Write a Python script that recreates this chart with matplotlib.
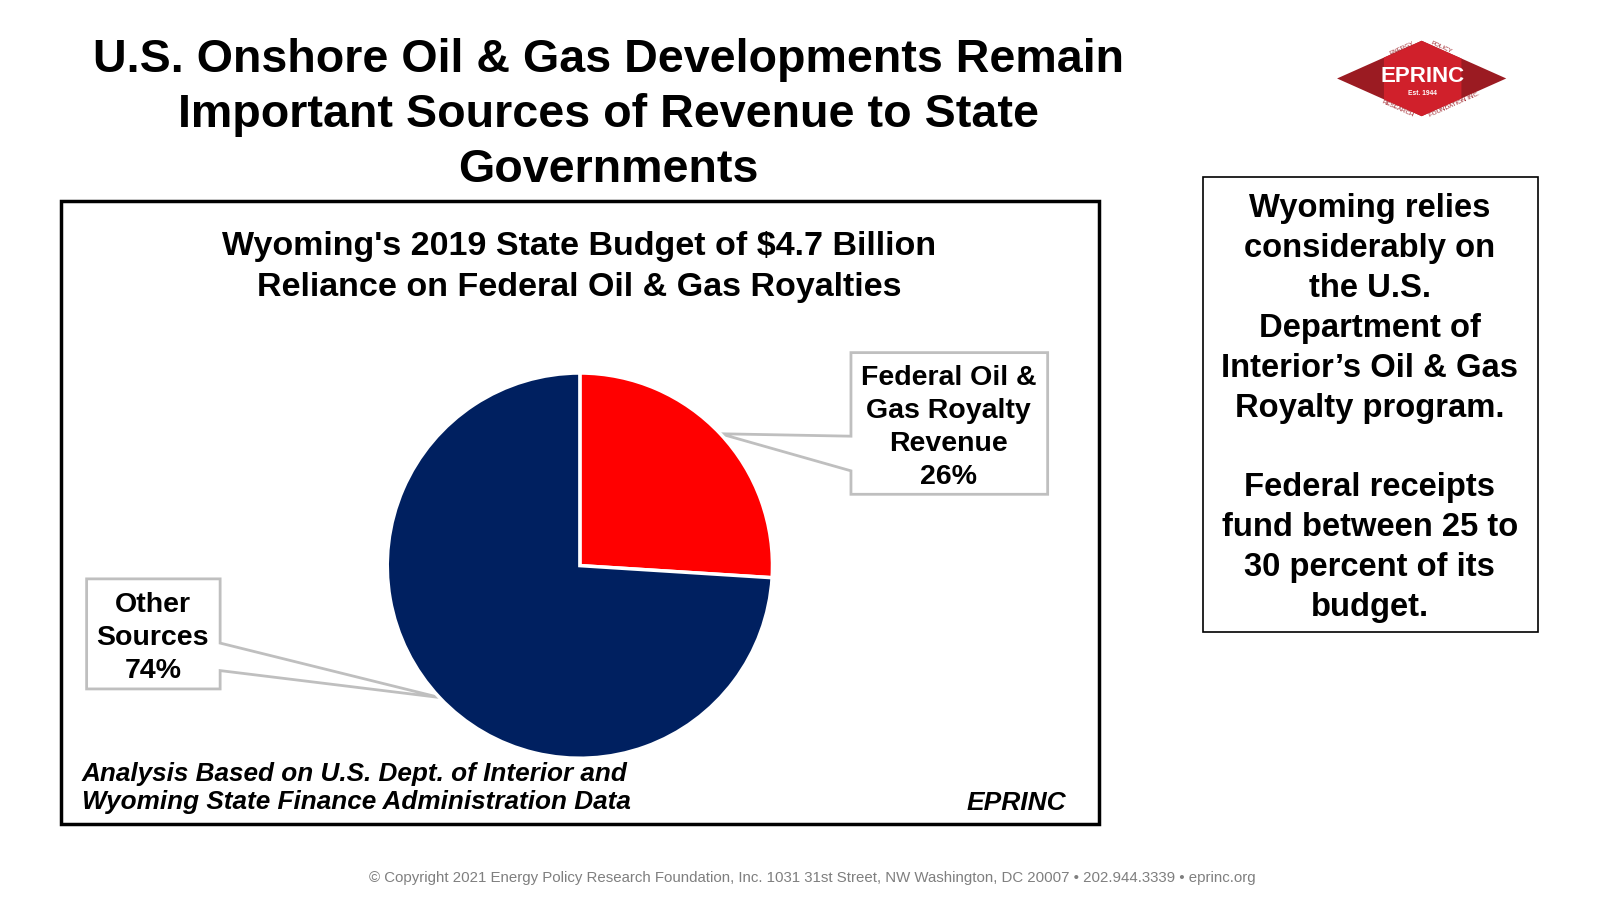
import numpy as np
import matplotlib
matplotlib.use("Agg")
import matplotlib.pyplot as plt
from matplotlib.patches import Polygon, Rectangle

# Datos del gráfico
categorias = [["Federal Oil &", "Gas Royalty", "Revenue", "26%"], ["Other", "Sources", "74%"]]
valores = [26, 74]
colores = ["#ff0000", "#002060"]

titulo = ["U.S. Onshore Oil & Gas Developments Remain", "Important Sources of Revenue to State",
          "Governments"]
titulo_grafico = ["Wyoming's 2019 State Budget of $4.7 Billion",
                  "Reliance on Federal Oil & Gas Royalties"]
nota_fuente = ["Analysis Based on U.S. Dept. of Interior and",
               "Wyoming State Finance Administration Data"]
texto_lateral = ["Wyoming relies", "considerably on", "the U.S.", "Department of",
                 "Interior\u2019s Oil & Gas", "Royalty program.", "",
                 "Federal receipts", "fund between 25 to", "30 percent of its", "budget."]
pie_pagina = ("\u00a9 Copyright 2021 Energy Policy Research Foundation, Inc. 1031 31st Street, "
              "NW Washington, DC 20007 \u2022 202.944.3339 \u2022 eprinc.org")

ARIAL = ["Liberation Sans", "DejaVu Sans"]

# medidas tomadas sobre una vista reducida de la lamina
W, H = 1570, 883.1
DY = 3  # va='center' deja el texto algo alto

fig = plt.figure(figsize=(16, 9), dpi=100)
fig.patch.set_facecolor("white")

ax = fig.add_axes([0, 0, 1, 1])
ax.set_xlim(0, W)
ax.set_ylim(H, 0)
ax.axis("off")


def lineas(x, y0, dy, textos, **kw):
    for i, t in enumerate(textos):
        ax.text(x, y0 + i * dy + DY, t, va="center", family=ARIAL, **kw)


lineas(597, 56, 54, titulo, ha="center", fontsize=33.6, fontweight="bold")

# marco del grafico
ax.add_patch(Rectangle((60, 197), 1018, 612, fill=False, edgecolor="black", lw=2.5))
lineas(568, 239, 40, titulo_grafico, ha="center", fontsize=24.5, fontweight="bold")

# caja de texto lateral
ax.add_patch(Rectangle((1180, 174), 329, 446, fill=False, edgecolor="black", lw=1.2))
lineas(1344, 202, 39.1, texto_lateral, ha="center", fontsize=23.6, fontweight="bold")

lineas(80, 756, 28, nota_fuente, ha="left", fontsize=18.8, fontweight="bold", style="italic")
lineas(997, 785, 0, ["EPRINC"], ha="center", fontsize=19, fontweight="bold", style="italic")

ax.text(797, 862, pie_pagina, ha="center", va="center", fontsize=10.8, color="#7f7f7f",
        family=ARIAL)

# logo
cx, cy, hw, hh = 1395, 77, 83, 37
ax.add_patch(Polygon([(cx - hw, cy), (cx, cy - hh), (cx + hw, cy), (cx, cy + hh)],
                     closed=True, facecolor="#9b1b22", edgecolor="none"))


def borde(x):
    d = abs(x - cx) / hw * hh
    return cy - hh + d, cy + hh - d


xl, xr = cx - 37, cx + 39
(tl, bl), (tr, br) = borde(xl), borde(xr)
ax.add_patch(Polygon([(xl, tl), (cx, cy - hh), (xr, tr), (xr, br), (cx, cy + hh), (xl, bl)],
                     closed=True, facecolor="#d0202b", edgecolor="none"))
ax.text(cx + 1, cy - 2, "EPRINC", ha="center", va="center", fontsize=16, fontweight="bold",
        color="white", family=ARIAL)
ax.text(cx + 1, cy + 15, "Est. 1944", ha="center", va="center", fontsize=4.8,
        fontweight="bold", color="white", family=ARIAL)
for txt, x, y, rot in [("ENERGY", 1376, 47, 24), ("POLICY", 1414, 46, -24),
                       ("RESEARCH", 1372, 107, -24), ("FOUNDATION INC.", 1427, 103, 24)]:
    ax.text(x, y, txt, ha="center", va="center", fontsize=4.5, rotation=rot,
            color="#9b1b22", family=ARIAL)

# pastel
r_px, c_px = 189, (569, 555)
pax = fig.add_axes([(c_px[0] - r_px) / W, (H - c_px[1] - r_px) / H,
                    2 * r_px / W, 2 * r_px / H])
wedges, _ = pax.pie(valores, colors=colores, startangle=90, counterclock=False,
                    wedgeprops=dict(edgecolor="white", linewidth=2.5))
pax.set_xlim(-1, 1)
pax.set_ylim(-1, 1)
pax.set_aspect("equal")
pax.axis("off")


def a_vista(ang):
    p = pax.transData.transform((np.cos(np.radians(ang)), np.sin(np.radians(ang))))
    return ax.transData.inverted().transform(p)


# cajas de etiqueta con puntero hacia el centro angular de cada porcion
cajas = [(835, 346, 1028, 485, "izq", 428, 462, 931, 368),
         (85, 568, 216, 676, "der", 631, 658, 150, 591)]
for w, etiqueta, (x0, y0, x1, y1, lado, ya, yb, xc, yt) in zip(wedges, categorias, cajas):
    apex = tuple(a_vista((w.theta1 + w.theta2) / 2))
    if lado == "izq":
        pts = [(x0, y0), (x1, y0), (x1, y1), (x0, y1), (x0, yb), apex, (x0, ya)]
    else:
        pts = [(x0, y0), (x1, y0), (x1, ya), apex, (x1, yb), (x1, y1), (x0, y1)]
    ax.add_patch(Polygon(pts, closed=True, facecolor="white", edgecolor="#bfbfbf", lw=2))
    lineas(xc, yt, 32.4, etiqueta, ha="center", fontsize=20.5, fontweight="bold")

fig.savefig("out.png", dpi=100, facecolor="white")
